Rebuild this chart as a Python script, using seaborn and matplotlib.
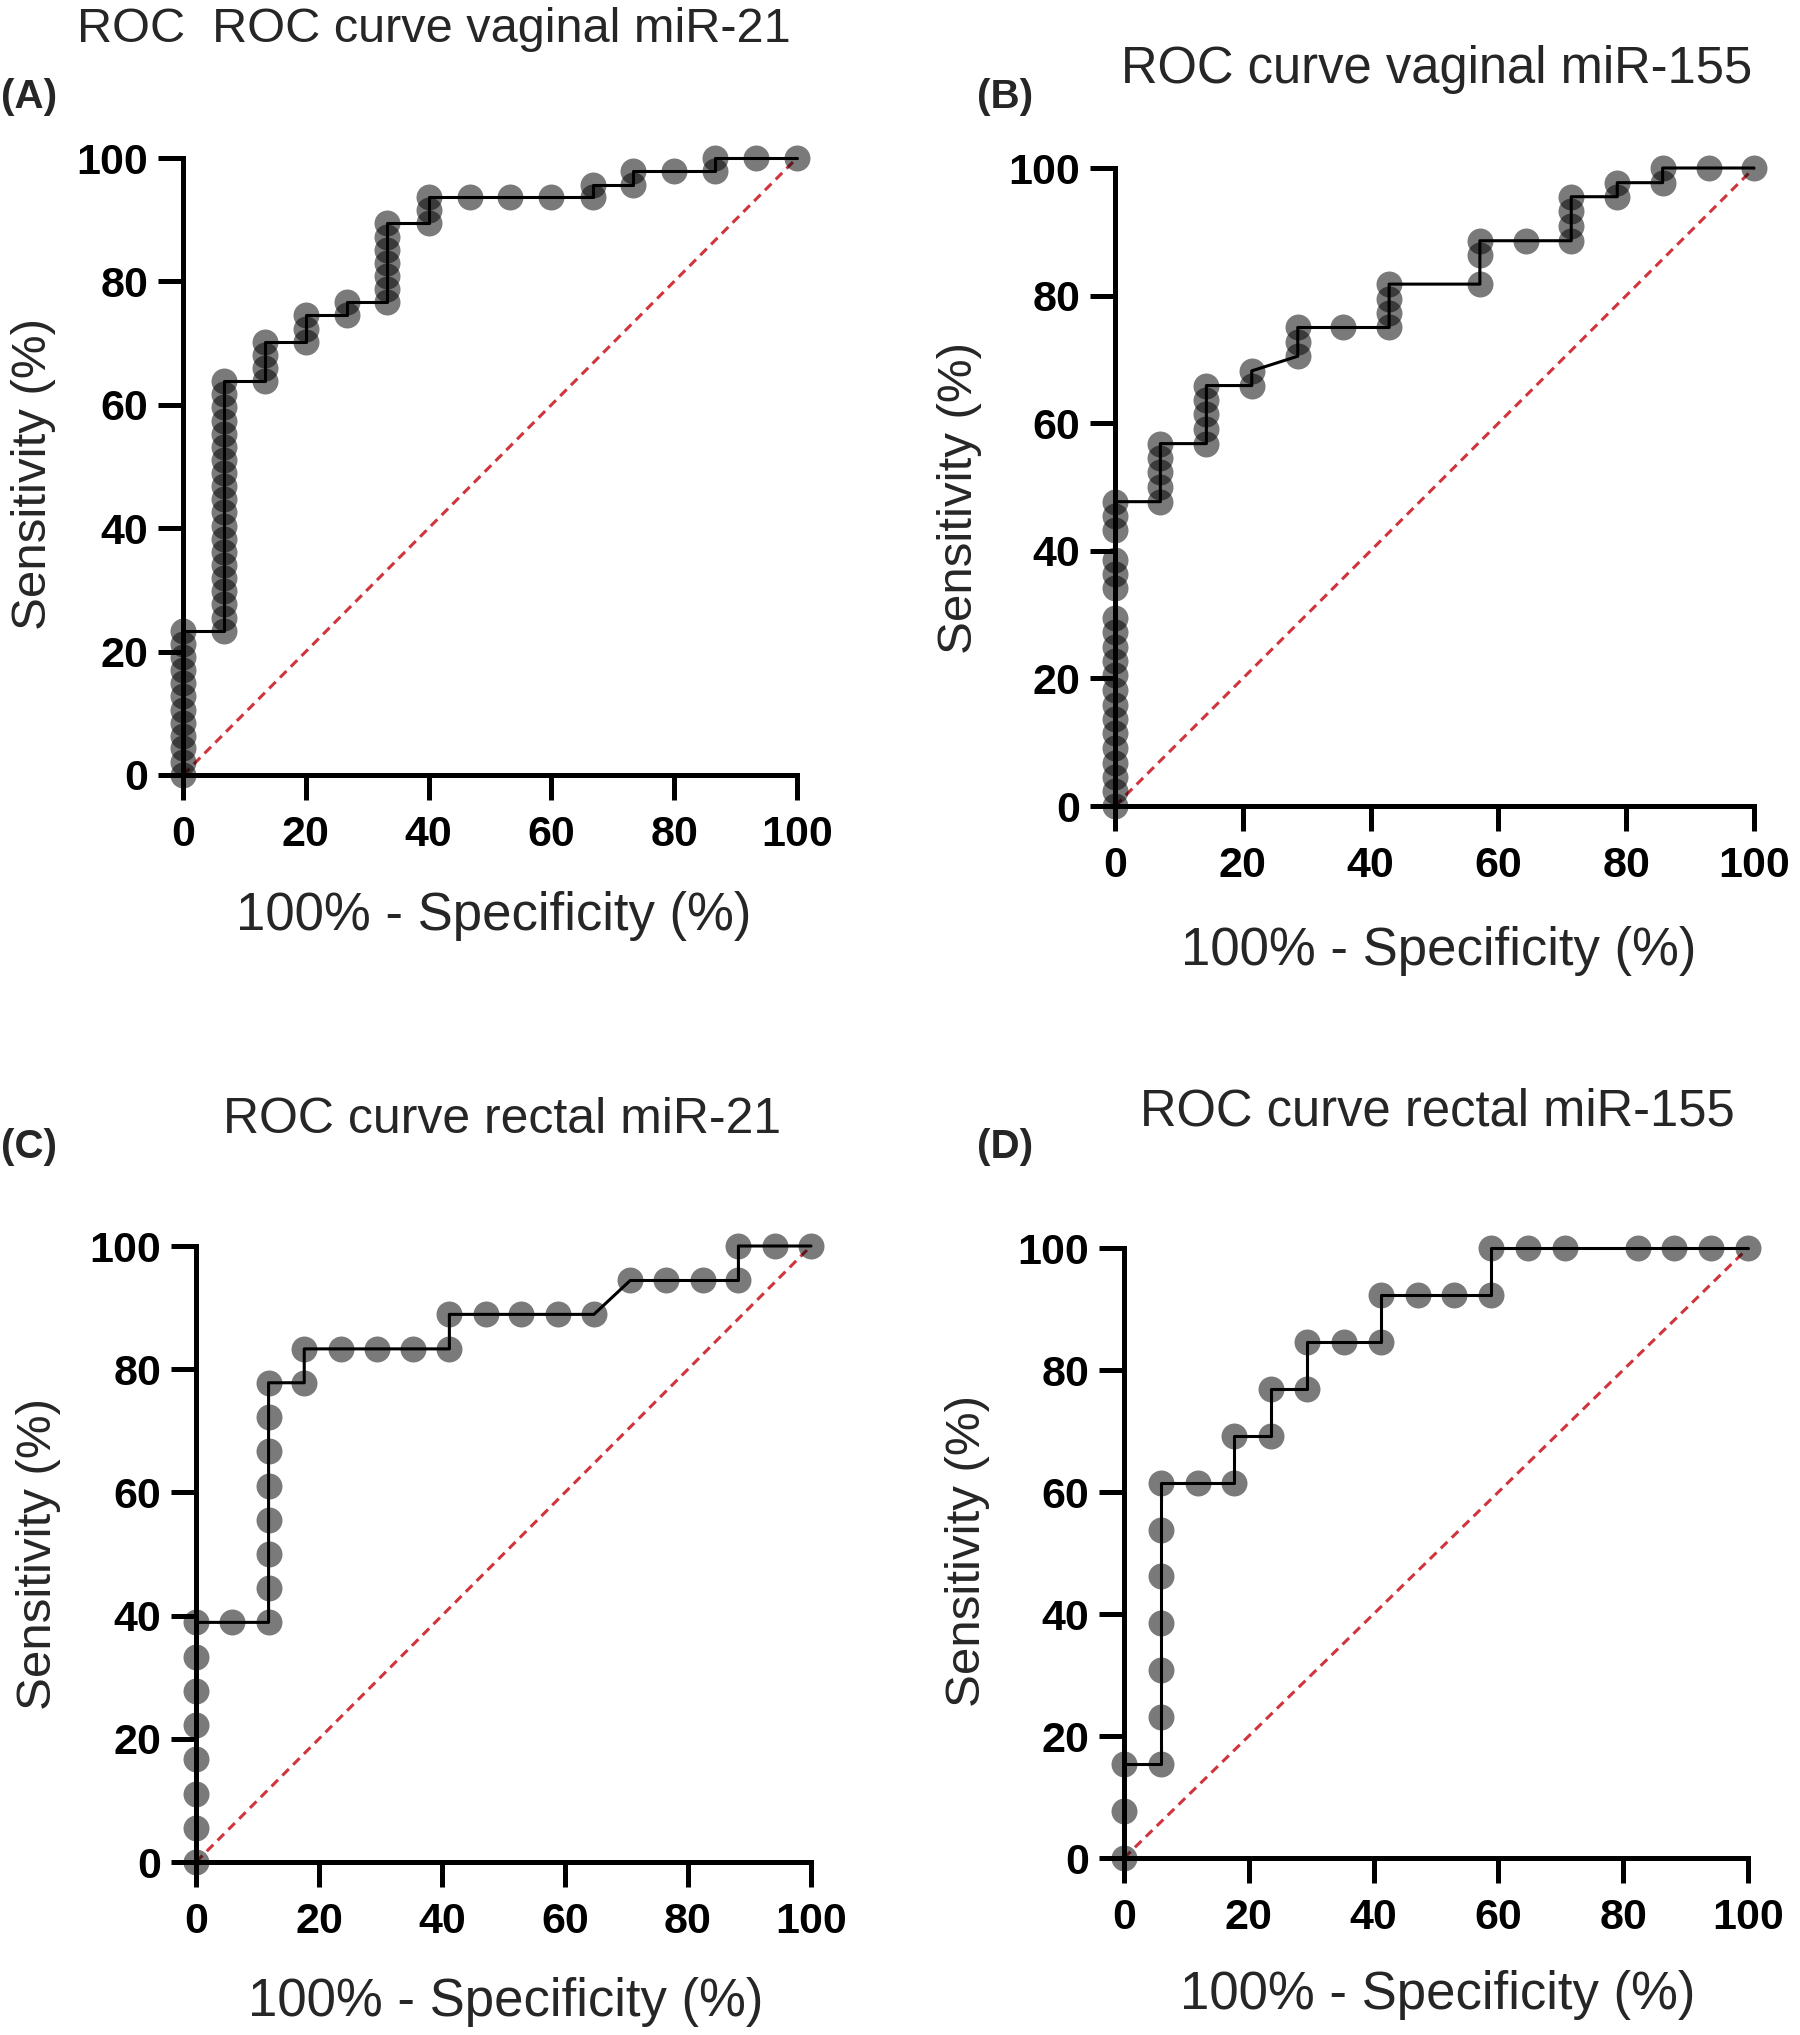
import matplotlib
matplotlib.use("Agg")
import matplotlib.pyplot as plt
import seaborn as sns

# ---------------- data (ROC points, % values) ----------------
chance = [0, 100]

a_fpr = [0.0] * 12 + [6.7] * 20 + [13.3] * 4 + [20.0] * 3 + [26.7] * 2 + [33.3] * 7 + \
        [40.0] * 3 + [46.7, 53.3, 60.0] + [66.7] * 2 + [73.3] * 2 + [80.0] + [86.7] * 2 + [93.3, 100.0]
a_tpr = [0.0, 2.1, 4.3, 6.4, 8.5, 10.6, 12.8, 14.9, 17.0, 19.1, 21.3, 23.4,
         23.4, 25.5, 27.7, 29.8, 31.9, 34.0, 36.2, 38.3, 40.4, 42.6, 44.7, 46.8, 48.9, 51.1,
         53.2, 55.3, 57.4, 59.6, 61.7, 63.8,
         63.8, 66.0, 68.1, 70.2,
         70.2, 72.3, 74.5,
         74.5, 76.6,
         76.6, 78.7, 80.9, 83.0, 85.1, 87.2, 89.4,
         89.4, 91.5, 93.6,
         93.6, 93.6, 93.6,
         93.6, 95.7,
         95.7, 97.9,
         97.9,
         97.9, 100.0,
         100.0, 100.0]

b_fpr = [0.0] * 20 + [7.1] * 5 + [14.3] * 5 + [21.4] * 2 + [28.6] * 3 + [35.7] + [42.9] * 4 + \
        [57.1] * 3 + [64.3] + [71.4] * 4 + [78.6] * 2 + [85.7] * 2 + [92.9, 100.0]
b_tpr = [0.0, 2.3, 4.5, 6.8, 9.1, 11.4, 13.6, 15.9, 18.2, 20.5, 22.7, 25.0, 27.3, 29.5,
         34.1, 36.4, 38.6, 43.2, 45.5, 47.7,
         47.7, 50.0, 52.3, 54.5, 56.8,
         56.8, 59.1, 61.4, 63.6, 65.9,
         65.9, 68.2,
         70.5, 72.7, 75.0,
         75.0,
         75.0, 77.3, 79.5, 81.8,
         81.8, 86.4, 88.6,
         88.6,
         88.6, 90.9, 93.2, 95.5,
         95.5, 97.7,
         97.7, 100.0,
         100.0, 100.0]

c_fpr = [0.0] * 8 + [5.9] + [11.8] * 8 + [17.6] * 2 + [23.5, 29.4, 35.3] + [41.2] * 2 + \
        [47.1, 52.9, 58.8, 64.7, 70.6, 76.5, 82.4] + [88.2] * 2 + [94.1, 100.0]
c_tpr = [0.0, 5.6, 11.1, 16.7, 22.2, 27.8, 33.3, 38.9,
         38.9,
         38.9, 44.4, 50.0, 55.6, 61.1, 66.7, 72.2, 77.8,
         77.8, 83.3,
         83.3, 83.3, 83.3,
         83.3, 88.9,
         88.9, 88.9, 88.9, 88.9, 94.4, 94.4, 94.4,
         94.4, 100.0,
         100.0, 100.0]

d_fpr = [0.0] * 3 + [5.9] * 7 + [11.8] + [17.6] * 2 + [23.5] * 2 + [29.4] * 2 + [35.3] + \
        [41.2] * 2 + [47.1, 52.9] + [58.8] * 2 + [64.7, 70.6, 82.4, 88.2, 94.1, 100.0]
d_tpr = [0.0, 7.7, 15.4,
         15.4, 23.1, 30.8, 38.5, 46.2, 53.8, 61.5,
         61.5,
         61.5, 69.2,
         69.2, 76.9,
         76.9, 84.6,
         84.6,
         84.6, 92.3,
         92.3, 92.3,
         92.3, 100.0,
         100.0, 100.0, 100.0, 100.0, 100.0, 100.0]

titles = ["ROC  ROC curve vaginal miR-21", "ROC curve vaginal miR-155",
          "ROC curve rectal miR-21", "ROC curve rectal miR-155"]
letters = ["(A)", "(B)", "(C)", "(D)"]
ticks = [0, 20, 40, 60, 80, 100]
xlabel_text = "100% - Specificity (%)"
ylabel_text = "Sensitivity (%)"

# ---------------- style / layout ----------------
sns.set_style("ticks")
plt.rcParams["font.family"] = ["Liberation Sans", "DejaVu Sans"]

W, H = 1800, 2035
fig = plt.figure(figsize=(W / 100, H / 100), dpi=100)


def fx(x):
    return x / W


def fy(y):
    return 1 - y / H


panels = [
    dict(fpr=a_fpr, tpr=a_tpr, box=(183, 797, 158, 775), title=(434, 42), tsize=35,
         letter=(29, 97), ylab=(34, 474), xlab=(494, 916)),
    dict(fpr=b_fpr, tpr=b_tpr, box=(1115, 1754, 168, 806), title=(1437, 83), tsize=36.5,
         letter=(1005, 97), ylab=(960, 498), xlab=(1439, 951)),
    dict(fpr=c_fpr, tpr=c_tpr, box=(196, 811, 1246, 1862), title=(502, 1133), tsize=36,
         letter=(29, 1147), ylab=(39, 1554), xlab=(506, 2002)),
    dict(fpr=d_fpr, tpr=d_tpr, box=(1124, 1748, 1248, 1858), title=(1437, 1125), tsize=36.5,
         letter=(1005, 1147), ylab=(967, 1551), xlab=(1438, 1995)),
]

for i, p in enumerate(panels):
    x0, x1, yt, yb = p["box"]
    ax = fig.add_axes([fx(x0), fy(yb), (x1 - x0) / W, (yb - yt) / H])

    sns.lineplot(x=chance, y=chance, ax=ax, color="#d0343c", lw=2.2,
                 linestyle=(0, (3, 2)), zorder=1, clip_on=False)
    sns.scatterplot(x=p["fpr"], y=p["tpr"], ax=ax, s=350, color="black", alpha=0.52,
                    linewidth=0, zorder=2, clip_on=False)
    sns.lineplot(x=p["fpr"], y=p["tpr"], ax=ax, sort=False, estimator=None,
                 color="black", lw=2.2, zorder=3, clip_on=False)

    ax.set_xlim(0, 100)
    ax.set_ylim(0, 100)
    ax.set_xticks(ticks)
    ax.set_yticks(ticks)
    ax.set_xlabel("")
    ax.set_ylabel("")
    sns.despine(ax=ax)
    for s in ["left", "bottom"]:
        ax.spines[s].set_linewidth(3.6)
        ax.spines[s].set_color("black")
    ax.tick_params(axis="both", length=18, width=3.6, labelsize=31, colors="black")
    ax.tick_params(axis="x", pad=11)
    ax.tick_params(axis="y", pad=7)
    for lbl in ax.get_xticklabels() + ax.get_yticklabels():
        lbl.set_fontweight("bold")

    tx, ty = p["title"]
    fig.text(fx(tx), fy(ty), titles[i], ha="center", va="baseline", fontsize=p["tsize"])
    lx, ly = p["letter"]
    fig.text(fx(lx), fy(ly), letters[i], ha="center", va="center", fontsize=29,
             fontweight="bold")
    yx, yy = p["ylab"]
    fig.text(fx(yx), fy(yy), ylabel_text, ha="center", va="center", rotation=90,
             fontsize=35.5)
    xx, xy = p["xlab"]
    fig.text(fx(xx), fy(xy), xlabel_text, ha="center", va="center", fontsize=38)

fig.savefig("out.png", dpi=100)
